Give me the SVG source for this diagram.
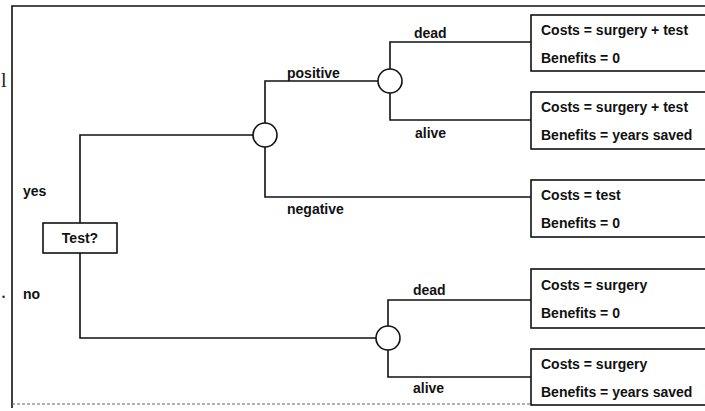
<svg xmlns="http://www.w3.org/2000/svg" width="705" height="411" viewBox="0 0 705 411">
  <style>
    .ln { fill: none; stroke: #111; stroke-width: 1.6; }
    .box { fill: #fff; stroke: #111; stroke-width: 1.6; }
    .chance { fill: #fff; stroke: #111; stroke-width: 1.6; }
    .t { font-family: "Liberation Sans", Arial, sans-serif; font-size: 14px; font-weight: bold; fill: #111; }
    .edge { font-family: "Liberation Serif", serif; font-size: 20px; fill: #222; }
  </style>
  <rect width="705" height="411" fill="#fff"/>

  <!-- page fragments at the left margin -->
  <text class="edge" x="1" y="87">l</text>
  <text class="edge" x="1" y="298" font-size="14">.</text>

  <!-- frame -->
  <g id="frame">
    <path class="ln" d="M12,408 V6 H710"/>
    <path d="M12,404 H710" fill="none" stroke="#666" stroke-width="1" stroke-dasharray="3 2"/>
  </g>

  <!-- connectors -->
  <g id="connectors">
    <path class="ln" d="M80,223 V135 H253"/>
    <path class="ln" d="M80,253 V338 H376"/>
    <path class="ln" d="M265,123 V81 H378"/>
    <path class="ln" d="M265,147 V197 H531"/>
    <path class="ln" d="M390,69 V42 H531"/>
    <path class="ln" d="M390,93 V120 H531"/>
    <path class="ln" d="M388,326 V300 H531"/>
    <path class="ln" d="M388,350 V377 H531"/>
  </g>

  <!-- branch labels -->
  <g id="labels">
    <text class="t" x="23" y="196">yes</text>
    <text class="t" x="23" y="299">no</text>
    <text class="t" x="287" y="78">positive</text>
    <text class="t" x="287" y="214">negative</text>
    <text class="t" x="414" y="38">dead</text>
    <text class="t" x="415" y="138">alive</text>
    <text class="t" x="413" y="295">dead</text>
    <text class="t" x="413" y="393">alive</text>
  </g>

  <!-- decision node -->
  <g id="test">
    <rect class="box" x="43" y="223" width="74" height="30"/>
    <text class="t" x="80" y="243" text-anchor="middle">Test?</text>
  </g>

  <!-- chance nodes -->
  <g id="chance-test"><circle class="chance" cx="265" cy="135" r="12"/></g>
  <g id="chance-positive"><circle class="chance" cx="390" cy="81" r="12"/></g>
  <g id="chance-notest"><circle class="chance" cx="388" cy="338" r="12"/></g>

  <!-- outcomes -->
  <g id="outcome-pos-dead">
    <rect class="box" x="531" y="15" width="185" height="56"/>
    <text class="t" x="541" y="35">Costs = surgery + test</text>
    <text class="t" x="541" y="63">Benefits = 0</text>
  </g>
  <g id="outcome-pos-alive">
    <rect class="box" x="531" y="92" width="185" height="57"/>
    <text class="t" x="541" y="112">Costs = surgery + test</text>
    <text class="t" x="541" y="140">Benefits = years saved</text>
  </g>
  <g id="outcome-neg">
    <rect class="box" x="531" y="180" width="185" height="57"/>
    <text class="t" x="541" y="200">Costs = test</text>
    <text class="t" x="541" y="228">Benefits = 0</text>
  </g>
  <g id="outcome-no-dead">
    <rect class="box" x="531" y="269" width="185" height="59"/>
    <text class="t" x="541" y="290">Costs = surgery</text>
    <text class="t" x="541" y="318">Benefits = 0</text>
  </g>
  <g id="outcome-no-alive">
    <rect class="box" x="531" y="349" width="185" height="56"/>
    <text class="t" x="541" y="369">Costs = surgery</text>
    <text class="t" x="541" y="397">Benefits = years saved</text>
  </g>
</svg>
